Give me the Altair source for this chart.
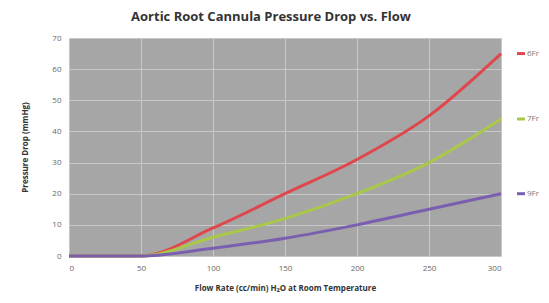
import altair as alt
import pandas as pd

flow = [0, 50, 100, 150, 200, 250, 300]
series_names = ["6Fr", "7Fr", "9Fr"]
drop_6fr = [0, 0, 9, 20, 31, 45, 65]
drop_7fr = [0, 0, 6, 12, 20, 30, 44]
drop_9fr = [0, 0, 2.5, 5.7, 10, 15, 20]
colors = ["#e0474c", "#a9c84a", "#7a5fb0"]

rows = []
for name, vals in zip(series_names, [drop_6fr, drop_7fr, drop_9fr]):
    for f, v in zip(flow, vals):
        rows.append({"flow": f, "drop": v, "series": name})
df = pd.DataFrame(rows)
ends = pd.DataFrame({"series": series_names,
                     "drop": [drop_6fr[-1], drop_7fr[-1], drop_9fr[-1]]})

W, H = 432, 218
FONT = "Open Sans"

color_scale = alt.Scale(domain=series_names, range=colors)

x_enc = alt.X("flow:Q", scale=alt.Scale(domain=[0, 300], nice=False),
              axis=alt.Axis(values=[0, 50, 100, 150, 200, 250, 300],
                            title="Flow Rate (cc/min) H₂O at Room Temperature",
                            titlePadding=12))
y_enc = alt.Y("drop:Q", scale=alt.Scale(domain=[0, 70], nice=False),
              axis=alt.Axis(values=[0, 10, 20, 30, 40, 50, 60, 70],
                            title="Pressure Drop (mmHg)", titlePadding=22))

lines = alt.Chart(df).mark_line(strokeWidth=3, interpolate="monotone").encode(
    x=x_enc, y=y_enc,
    color=alt.Color("series:N", scale=color_scale, legend=None),
)

keys = alt.Chart(ends).mark_rule(strokeWidth=3).encode(
    x=alt.value(W + 16), x2=alt.value(W + 24),
    y=y_enc,
    color=alt.Color("series:N", scale=color_scale, legend=None),
)
labels = alt.Chart(ends).mark_text(align="left", baseline="middle", fontSize=8,
                                   font=FONT, color="#777777").encode(
    x=alt.value(W + 26), y=y_enc, text="series:N",
)

chart = alt.layer(lines, keys, labels).properties(
    width=W, height=H,
    autosize=alt.AutoSizeParams(type="none"),
    padding={"left": 61, "top": 30, "right": 40, "bottom": 40},
    title=alt.TitleParams("Aortic Root Cannula Pressure Drop vs. Flow",
                          fontSize=13, font=FONT, fontWeight="bold",
                          color="#333333", offset=10, dx=-14),
).configure_view(
    fill="#a6a6a6", strokeWidth=0,
).configure_axis(
    grid=True, gridColor="#c8c8c8", gridWidth=1,
    domain=False, ticks=False, labelOverlap=False,
    labelFont=FONT, labelFontSize=8, labelColor="#666666", labelPadding=8,
    titleFont=FONT, titleFontSize=8, titleFontWeight="bold", titleColor="#333333",
)

chart.save("out.html", embed_options={"renderer": "svg", "actions": False})
